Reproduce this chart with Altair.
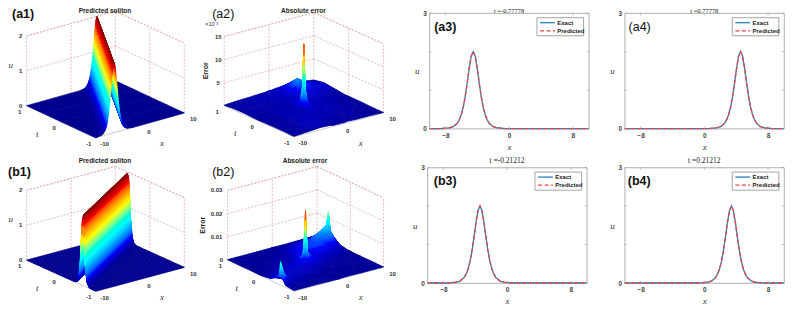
import altair as alt
import numpy as np
import pandas as pd

alt.data_transformers.disable_max_rows()

# ---------- values ----------
# soliton cross-section: offset from the peak, height
offs = [-4, -3, -2.5, -2, -1.75, -1.5, -1.25, -1, -0.75, -0.5, -0.25, 0,
        0.25, 0.5, 0.75, 1, 1.25, 1.5, 1.75, 2, 2.5, 3, 4]
prof = [0.00, 0.02, 0.05, 0.14, 0.23, 0.36, 0.56, 0.84, 1.19, 1.57, 1.88, 2.0,
        1.88, 1.57, 1.19, 0.84, 0.56, 0.36, 0.23, 0.14, 0.05, 0.02, 0.00]
# ridge position read at the two ends of each surface (x at t=-1 and t=1)
ridge_a = [-5.85, 5.85]
ridge_b = [-16.0, 16.0]
# peak positions in the four line panels
peaks = {"a3": -4.5, "a4": 4.55, "b3": -3.4, "b4": 3.4}
titles = {"a3": "t =-0.77778", "a4": "t =0.77778", "b3": "t =-0.21212", "b4": "t =0.21212"}

# absolute error surfaces, in units of 1e-3 (rows: t, columns: x)
a2_x = [-10, -7, -4, -2, -1, -0.3, 0, 0.3, 1, 2, 4, 7, 10]
a2_t = [-1, -0.7, -0.4, -0.2, -0.1, -0.03, 0, 0.03, 0.1, 0.2, 0.4, 0.7, 1]
a2_z = [
    [.1, .3, .5, .4, .2, .3, .2, .3, .2, .3, .2, .2, .1],
    [.2, .5, .9, .5, .7, .4, .5, .4, .6, .3, .5, .2, .1],
    [.2, .4, .6, .8, .6, .7, .6, .7, .5, .8, .4, .4, .2],
    [.2, .3, .7, .5, .7, 1.0, 1.2, 1.0, .7, .5, .7, .3, .2],
    [.2, .4, .5, .6, .8, 1.2, 2.0, 1.2, .8, .6, .5, .4, .2],
    [.2, .4, .6, .7, 1.0, 1.8, 5.0, 1.8, 1.0, .7, .6, .3, .2],
    [.2, .4, .5, .7, 1.1, 3.0, 14.2, 3.0, 1.1, .7, .7, .4, .2],
    [.2, .4, .6, .7, 1.0, 1.8, 5.0, 1.8, 1.0, .7, .7, .3, .2],
    [.2, .4, .5, .6, .8, 1.2, 2.0, 1.2, .8, .7, .8, .4, .2],
    [.2, .3, .5, .5, .7, 1.0, 1.2, 1.0, .8, .8, .8, .5, .3],
    [.3, .4, .4, .5, .6, .6, .7, .8, .8, .9, 1.2, .8, .5],
    [.3, .5, .6, .6, .7, .8, .9, .9, 1.0, 1.5, 3.3, 1.3, .8],
    [.1, .3, .4, .5, .5, .6, .6, .6, .7, .8, 1.0, .8, .4],
]

b2_x = [-10, -9.3, -8, -5, -2, -0.3, 0, 0.3, 2, 5, 8, 9.3, 9.7, 10]
b2_t = [-1, -0.75, -0.65, -0.6, -0.55, -0.3, -0.1, -0.04, 0, 0.04, 0.1, 0.3, 0.5, 0.58, 0.62, 0.66, 0.8, 1]
b2_z = [
    [.3, .3, .3, .3, .2, .2, .2, .2, .3, .2, .2, .2, .2, .2],
    [.8, .6, .5, .4, .3, .3, .3, .3, .3, .2, .2, .2, .2, .2],
    [3.0, 1.5, 1.0, .6, .4, .3, .3, .3, .3, .2, .2, .2, .2, .2],
    [10.0, 5.0, 1.5, .8, .5, .4, .3, .3, .3, .2, .2, .2, .2, .2],
    [4.0, 2.0, 1.5, 1.0, .6, .5, .4, .4, .3, .2, .2, .2, .2, .2],
    [.8, 1.0, 1.5, 1.5, 1.5, 1.0, 1.0, 1.0, .8, .4, .3, .2, .2, .2],
    [.3, .5, 1.0, 1.5, 2.0, 2.5, 3.0, 2.5, 1.5, .8, .4, .3, .2, .2],
    [.3, .4, .8, 1.2, 2.0, 3.0, 7.0, 3.0, 2.0, 1.2, .6, .3, .2, .2],
    [.2, .3, .6, 1.0, 2.0, 5.0, 23.0, 5.0, 2.0, 1.5, .8, .4, .3, .2],
    [.2, .3, .5, .8, 1.8, 3.0, 7.0, 3.0, 2.2, 1.8, 1.0, .5, .3, .2],
    [.2, .3, .4, .7, 1.2, 2.0, 3.0, 2.2, 2.2, 2.0, 1.2, .6, .4, .3],
    [.2, .2, .3, .5, .8, 1.5, 2.0, 2.2, 3.0, 3.5, 2.5, 1.8, 1.2, .8],
    [.2, .2, .2, .3, .6, .8, 1.0, 1.5, 2.5, 3.5, 4.5, 5.0, 4.0, 3.0],
    [.2, .2, .2, .3, .5, .7, .8, 1.2, 2.2, 3.2, 5.5, 6.0, 6.0, 4.0],
    [.2, .2, .2, .3, .4, .6, .8, 1.0, 2.0, 3.0, 6.0, 8.0, 13.0, 6.0],
    [.2, .2, .2, .2, .4, .5, .7, .8, 1.6, 2.5, 4.0, 5.0, 5.0, 3.0],
    [.2, .2, .2, .2, .3, .4, .5, .6, .8, 1.5, 2.5, 2.5, 1.8, 1.2],
    [.2, .2, .2, .2, .2, .2, .2, .2, .2, .3, .3, .3, .2, .2],
]

# ---------- 3D view: page position of the floor corners, pixels per z unit ----------
views = {
    "a1": dict(l=(26.7, 106), b=(96, 138.3), r=(185, 113.3), zs=35.0),
    "a2": dict(l=(225, 106), b=(295, 137.3), r=(385, 113.3), zs=4.63),
    "b1": dict(l=(26.7, 261), b=(96, 292.3), r=(185, 268.3), zs=35.0),
    "b2": dict(l=(228.3, 261), b=(295, 292.3), r=(385, 268.3), zs=2.33),
}
JET = ["#00008f", "#0000ff", "#00ffff", "#ffff00", "#ff0000", "#800000"]
JET_STOPS = [0, .125, .375, .625, .875, 1]
WALL = "#d9a3a3"
EDGE = "#b5b5b5"
TICK_FONT = "Liberation Sans"
MATH_FONT = "Liberation Serif"
LINE_COLORS = ["#2a7fb8", "#e8434a"]


def project(view, x, t, z):
    a = (np.asarray(x, float) + 10) / 20
    b = (np.asarray(t, float) + 1) / 2
    lx, ly = view["l"]; bx, by = view["b"]; rx, ry = view["r"]
    px = bx + a * (rx - bx) + b * (lx - bx)
    py = by + a * (ry - by) + b * (ly - by) - np.asarray(z, float) * view["zs"]
    return px, py


def quads(view, X, T, Z, vmax, n=4, flat=0.02):
    """Shaded mesh, painted from the far corner to the near one."""
    X, T, Z = map(lambda m: np.asarray(m, float), (X, T, Z))
    rows = []
    q = 0
    for i in range(X.shape[0] - 2, -1, -1):
        for j in range(X.shape[1] - 2, -1, -1):
            zc = Z[i:i + 2, j:j + 2]
            if abs(X[i, j] - X[i, j + 1]) < 1e-9 and abs(X[i + 1, j] - X[i + 1, j + 1]) < 1e-9:
                continue
            m = n if zc.max() - zc.min() > flat else 1
            for si in range(m - 1, -1, -1):
                for sj in range(m - 1, -1, -1):
                    us = np.array([si, si, si + 1, si + 1]) / m
                    vs = np.array([sj, sj + 1, sj + 1, sj]) / m
                    def bil(M):
                        return ((1 - us) * (1 - vs) * M[i, j] + (1 - us) * vs * M[i, j + 1]
                                + us * (1 - vs) * M[i + 1, j] + us * vs * M[i + 1, j + 1])
                    xs, ts, zs = bil(X), bil(T), bil(Z)
                    px, py = project(view, xs, ts, zs)
                    for k in range(4):
                        rows.append((q, k, round(float(px[k]), 2), round(float(py[k]), 2), round(float(zs.mean()) / vmax, 3)))
                    q += 1
    return pd.DataFrame(rows, columns=["q", "k", "px", "py", "v"])


def soliton_mesh(ridge, t_rows):
    off = np.array([-30.0] + offs + [30.0])
    pr = np.array([0.0] + prof + [0.0])
    X, T, Z = [], [], []
    for t in t_rows:
        c = ridge[0] + (t + 1) / 2 * (ridge[1] - ridge[0])
        x = np.clip(c + off, -10, 10)
        X.append(x)
        T.append(np.full_like(x, t))
        Z.append(np.interp(x - c, off, pr))
    return X, T, Z


def surface_panel(name, mesh, vmax, zticks, ztop, title, w, box, title_y, ztitle=None, extra=None, zfmt=None, label_weight="bold", label_pos=(0, 0)):
    v = views[name]
    xs = alt.Scale(domain=[box[0], box[1]], nice=False, zero=False)
    ys = alt.Scale(domain=[box[3], box[2]], nice=False, zero=False)
    X = alt.X("px:Q", scale=xs, axis=None)
    Y = alt.Y("py:Q", scale=ys, axis=None)
    X1 = alt.X("x1:Q", scale=xs, axis=None)
    Y1 = alt.Y("y1:Q", scale=ys, axis=None)

    # box walls
    w_rows = []
    def seg(a, b, kind):
        p = project(v, *a); q = project(v, *b)
        w_rows.append(dict(x1=float(p[0]), y1=float(p[1]), x2=float(q[0]), y2=float(q[1]), kind=kind))
    for z in list(zticks) + [ztop]:
        seg((-10, 1, z), (10, 1, z), "w")
        seg((10, 1, z), (10, -1, z), "w")
    for px_, pt_ in [(-10, 1), (0, 1), (10, 1), (10, 0), (10, -1)]:
        seg((px_, pt_, 0), (px_, pt_, ztop), "w")
    seg((-10, 1, 0), (-10, -1, 0), "e")
    seg((-10, -1, 0), (10, -1, 0), "e")
    wd = pd.DataFrame(w_rows)
    base = alt.Chart(wd)
    walls = base.transform_filter("datum.kind=='w'").mark_rule(color=WALL, strokeWidth=0.7, strokeDash=[2, 1.5]).encode(
        x=X1, y=Y1, x2="x2:Q", y2="y2:Q")
    edges = base.transform_filter("datum.kind=='e'").mark_rule(color=EDGE, strokeWidth=0.7).encode(
        x=X1, y=Y1, x2="x2:Q", y2="y2:Q")

    # surface (colour field is height / panel maximum, so the one colour scale serves all panels)
    jet = alt.Scale(domain=JET_STOPS, range=JET, clamp=True)
    surf = alt.Chart(quads(v, *mesh, vmax)).mark_line(interpolate="linear-closed", strokeWidth=0.7).encode(
        x=X, y=Y, detail="q:N", order="k:Q",
        fill=alt.Fill("v:Q", scale=jet, legend=None),
        stroke=alt.Stroke("v:Q", scale=jet, legend=None))

    # tick labels, at their axis ends
    tl = []
    for z in zticks:
        p = project(v, -10, 1, z)
        tl.append(dict(px=float(p[0]) - (11 if zfmt and z else 6), py=float(p[1]), s=(zfmt(z) if zfmt else str(z))))
    for t_, s in [(1, "1"), (0, "0"), (-1, "-1")]:
        p = project(v, -10, t_, 0)
        tl.append(dict(px=float(p[0]) - 7, py=float(p[1]) + 6, s=s))
    for x_, s in [(-10, "-10"), (0, "0"), (10, "10")]:
        p = project(v, x_, -1, 0)
        tl.append(dict(px=float(p[0]) + 9, py=float(p[1]) + 6.5, s=s))
    tdf = pd.DataFrame(tl)
    ticks = alt.Chart(tdf).mark_text(font=TICK_FONT, fontWeight="bold", fontSize=6, color="#333333").encode(
        x=X, y=Y, text="s:N")

    p_l = project(v, -10, 0, 0); p_b = project(v, 0, -1, 0)
    math = pd.DataFrame([
        dict(px=float(p_l[0]) - 24, py=float(p_l[1]) + 12, s="t"),
        dict(px=float(p_b[0]) + 22, py=float(p_b[1]) + 18, s="x"),
    ])
    if ztitle is None:
        math = pd.concat([math, pd.DataFrame([dict(px=v["l"][0] - 16, py=v["l"][1] - 41, s="u")])])
    mlab = alt.Chart(math).mark_text(font=MATH_FONT, fontStyle="italic", fontSize=9, color="#333333").encode(x=X, y=Y, text="s:N")

    ttl = alt.Chart(pd.DataFrame([dict(px=(v["l"][0] + v["r"][0]) / 2 - 0.5, py=title_y, s=title)])).mark_text(
        font=TICK_FONT, fontWeight="bold", fontSize=6.5, color="#222222").encode(x=X, y=Y, text="s:N")
    lab = alt.Chart(pd.DataFrame([dict(px=label_pos[0], py=label_pos[1], s="(" + name + ")")])).mark_text(
        font=TICK_FONT, fontWeight=label_weight, fontSize=12.5, align="left", color="#111111").encode(x=X, y=Y, text="s:N")
    layers = [walls, edges, surf, ticks, mlab, ttl, lab]
    if ztitle:
        layers.append(alt.Chart(pd.DataFrame([dict(px=ztitle[1], py=ztitle[2], s=ztitle[0])])).mark_text(
            font=TICK_FONT, fontWeight="bold", fontSize=7, angle=270, color="#222222").encode(x=X, y=Y, text="s:N"))
    if extra:
        layers.append(alt.Chart(pd.DataFrame([dict(px=extra[1], py=extra[2], s=extra[0])])).mark_text(
            font=TICK_FONT, fontSize=5.5, align="left", color="#333333").encode(x=X, y=Y, text="s:N"))
    return alt.layer(*layers).properties(width=w, height=116, view=alt.ViewConfig(strokeOpacity=0))


def line_panel(name, title_u, title_size):
    c = peaks[name]
    xv = [-10.0] + [c + o for o in offs] + [10.0]
    uv = [0.0] + prof + [0.0]
    df = pd.concat([
        pd.DataFrame(dict(x=xv, u=uv, s="Exact")),
        pd.DataFrame(dict(x=xv, u=uv, s="Predicted")),
    ])
    sx = alt.Scale(domain=[-10, 10], nice=False, zero=False)
    sy = alt.Scale(domain=[0, 3], nice=False, zero=False)
    xax = alt.Axis(values=[-8, 0, 8], tickSize=0, grid=False, domain=False, labelFont=TICK_FONT, labelFontWeight="bold",
                   labelFontSize=6.5, labelColor="#444444", labelPadding=4, title="x", titleFont=MATH_FONT,
                   titleFontStyle="italic", titleFontWeight="normal", titleFontSize=9, titleColor="#333333", titlePadding=3)
    yax = alt.Axis(values=[0, 1, 2, 3], tickSize=0, grid=False, domain=False, labelFont=TICK_FONT, labelFontWeight="bold",
                   labelFontSize=6.5, labelColor="#444444", labelPadding=3, title="u", titleAngle=0, titleFont=MATH_FONT,
                   titleFontStyle="italic", titleFontWeight="normal", titleFontSize=9, titleColor="#333333", titlePadding=6,
                   titleBaseline="middle")
    PX = alt.X("x:Q", scale=sx)
    PU = alt.Y("u:Q", scale=sy)
    line = alt.Chart(df).mark_line(strokeWidth=1.3).encode(
        x=alt.X("x:Q", scale=sx, axis=xax),
        y=alt.Y("u:Q", scale=sy, axis=yax),
        color=alt.Color("s:N", scale=alt.Scale(domain=["Exact", "Predicted"], range=LINE_COLORS), legend=None),
        strokeDash=alt.StrokeDash("s:N", scale=alt.Scale(domain=["Exact", "Predicted"], range=[[1, 0], [4, 2.5]]), legend=None),
    )
    xt = pd.DataFrame(dict(x=[-8, 0, 8] * 2, u=[0] * 3 + [3] * 3, u2=[0.06] * 3 + [2.94] * 3))
    yt = pd.DataFrame(dict(x=[-10] * 4 + [10] * 4, x2=[-9.75] * 4 + [9.75] * 4, u=[0, 1, 2, 3] * 2))
    xtick = alt.Chart(xt).mark_rule(color="#999999", strokeWidth=0.6).encode(x=PX, y=PU, y2="u2:Q")
    ytick = alt.Chart(yt).mark_rule(color="#999999", strokeWidth=0.6).encode(x=PX, x2="x2:Q", y=PU)
    lx = {"a3": -9.4, "a4": -9.5, "b3": -9.2, "b4": -9.6}[name]
    wt = {"a3": "bold", "a4": "normal", "b3": "bold", "b4": "bold"}[name]
    lab = alt.Chart(pd.DataFrame(dict(x=[lx], u=[2.64], s=["(" + name + ")"]))).mark_text(
        font=TICK_FONT, fontWeight=wt, fontSize=12.5, align="left", color="#111111").encode(x=PX, y=PU, text="s:N")
    # legend box
    lgx, lgx2, lgu, lgu2 = 3.5, 9.35, 2.88, 2.41
    box = alt.Chart(pd.DataFrame(dict(x=[lgx], x2=[lgx2], u=[lgu], u2=[lgu2]))).mark_rect(
        fill="white", stroke="#8f8f8f", strokeWidth=0.8).encode(x=PX, x2="x2:Q", y=PU, y2="u2:Q")
    lgk = pd.DataFrame(dict(x=[3.9, 3.9], x2=[5.75, 5.75], u=[2.75, 2.54], s=["Exact", "Predicted"]))
    key1 = alt.Chart(lgk.iloc[[0]]).mark_rule(color=LINE_COLORS[0], strokeWidth=1.3).encode(x=PX, x2="x2:Q", y=PU)
    key2 = alt.Chart(lgk.iloc[[1]]).mark_rule(color=LINE_COLORS[1], strokeWidth=1.3, strokeDash=[4, 2.5]).encode(x=PX, x2="x2:Q", y=PU)
    ltx = alt.Chart(lgk.assign(xt=6.05)).mark_text(font=TICK_FONT, fontWeight="bold", fontSize=6, align="left", color="#222222").encode(
        x=alt.X("xt:Q", scale=sx), y=PU, text="s:N")
    ttl = alt.Chart(pd.DataFrame(dict(x=[0.0], u=[title_u], s=[titles[name]]))).mark_text(
        font=MATH_FONT, fontSize=title_size, color="#222222").encode(x=PX, y=PU, text="s:N")
    return alt.layer(line, xtick, ytick, lab, box, key1, key2, ltx, ttl).properties(
        width=160, height=116,
        view=alt.ViewConfig(stroke="#9a9a9a", strokeWidth=0.8),
    )


a1 = surface_panel("a1", soliton_mesh(ridge_a, [-1, -0.5, 0, 0.5, 1]), 2.0, [0, 1, 2], 2, "Predicted soliton", 178,
                   (8, 186, 13, 129), 11, label_pos=(12, 14))
T_b = list(np.linspace(-1, 1, 41))
b1 = surface_panel("b1", soliton_mesh(ridge_b, T_b), 2.0, [0, 1, 2], 2, "Predicted soliton", 176,
                   (8, 184, 168, 284), 161.7, label_pos=(8, 173))

a2m = (np.tile(a2_x, (len(a2_t), 1)), np.tile(np.array(a2_t)[:, None], (1, len(a2_x))), a2_z)
b2m = (np.tile(b2_x, (len(b2_t), 1)), np.tile(np.array(b2_t)[:, None], (1, len(b2_x))), b2_z)
a2 = surface_panel("a2", a2m, 14.2, [5, 10, 15], 15, "Absolute error", 173, (222, 395, 13, 129), 11,
                   ztitle=("Error", 207, 71), extra=("\u00d710\u207b\u00b3", 206, 24), label_weight="normal", label_pos=(213, 14))
b2 = surface_panel("b2", b2m, 23.0, [0, 10, 20, 30], 30, "Absolute error", 169, (222, 391, 168, 284), 161.7,
                   ztitle=("Error", 204, 226), zfmt=lambda z: "0" if z == 0 else f"{z / 1000:.2f}",
                   label_weight="normal", label_pos=(213, 173))

a3 = line_panel("a3", 3.05, 6.5)
a4 = line_panel("a4", 3.05, 6.5)
b3 = line_panel("b3", 3.16, 7.5)
b4 = line_panel("b4", 3.16, 7.5)

row1 = alt.hconcat(a1, a2, a3, a4, spacing=36, bounds="flush")
row2 = alt.hconcat(b1, b2, b3, b4, spacing=38, bounds="flush")
chart = alt.vconcat(row1, row2, spacing=155, bounds="flush").properties(
    padding={"left": 0, "right": 0, "top": -1.5, "bottom": 0}, background="white")
chart.save("out.html", embed_options={"renderer": "svg", "actions": False})
